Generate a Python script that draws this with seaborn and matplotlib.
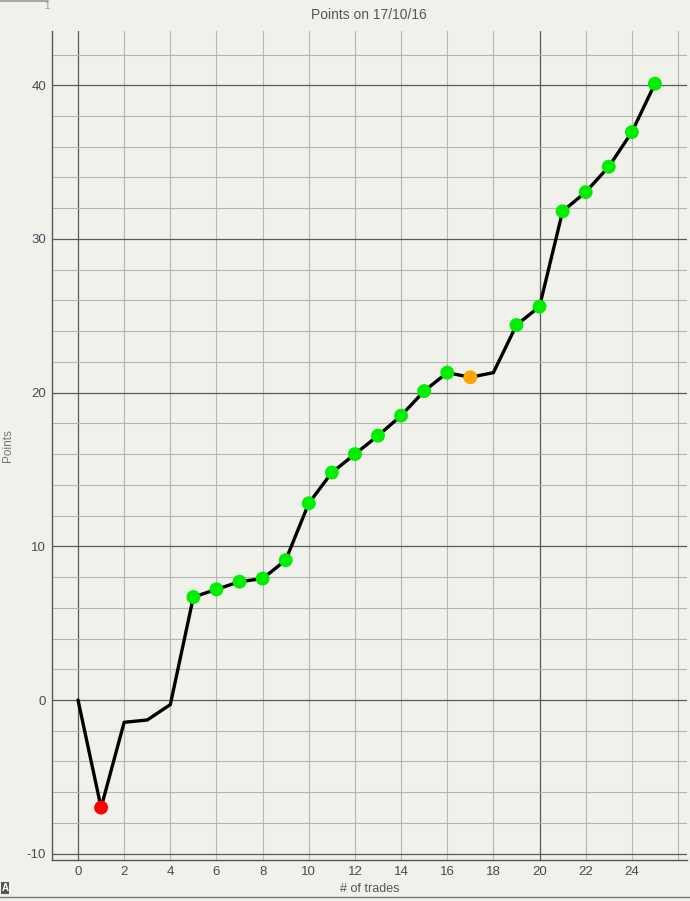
import matplotlib
matplotlib.use("Agg")
import matplotlib.pyplot as plt
import seaborn as sns
import pandas as pd
from matplotlib.ticker import MultipleLocator, FuncFormatter, NullFormatter

trades = list(range(26))
points = [0, -7.0, -1.45, -1.3, -0.3, 6.7, 7.2, 7.7, 7.9, 9.1, 12.8, 14.8, 16.0,
          17.2, 18.5, 20.1, 21.3, 21.0, 21.3, 24.4, 25.6, 31.8, 33.05, 34.7, 36.95, 40.1]
status = ["none", "loss", "none", "none", "none", "win", "win", "win", "win", "win",
          "win", "win", "win", "win", "win", "win", "win", "flat", "none", "win",
          "win", "win", "win", "win", "win", "win"]
title = "Points on 17/10/16"
xlabel = "# of trades"
ylabel = "Points"
x_label_max = 24

df = pd.DataFrame({"trade": trades, "points": points, "status": status})

sns.set_theme(style="white")
plt.rcParams['font.family'] = ['Liberation Sans', 'DejaVu Sans']
plt.rcParams['axes.unicode_minus'] = False
bg = "#f1f1ec"
fig = plt.figure(figsize=(6.9, 9.01), dpi=100, facecolor=bg)
ax = fig.add_axes([51.7/690, 1-860/901, (687-51.7)/690, (860-31)/901])
ax.set_facecolor(bg)

sns.lineplot(data=df, x="trade", y="points", color="black", lw=2.4, ax=ax, zorder=3)
marks = df[df["status"] != "none"]
sns.scatterplot(data=marks, x="trade", y="points", hue="status",
                palette={"win": "#00ee00", "loss": "#ff0000", "flat": "#ffa500"},
                s=100, edgecolor="none", legend=False, ax=ax, zorder=4)

ax.set_xlim(-1.14, 26.39)
ax.set_ylim(-10.41, 43.53)

ax.xaxis.set_major_locator(MultipleLocator(20))
ax.xaxis.set_minor_locator(MultipleLocator(2))
ax.xaxis.set_minor_formatter(FuncFormatter(
    lambda v, p: f"{int(round(v))}" if v <= x_label_max + 0.5 else ""))
ax.yaxis.set_major_locator(MultipleLocator(10))
ax.yaxis.set_minor_locator(MultipleLocator(2))
ax.yaxis.set_minor_formatter(NullFormatter())
ax.grid(which="minor", color="#b5b5b2", lw=0.8)
ax.grid(which="major", color="#5a5a5a", lw=0.9)
ax.set_axisbelow(True)

ax.tick_params(axis="both", which="both", length=0, labelsize=9.5, labelcolor="#444a55", pad=4)
for s in ["top", "right"]:
    ax.spines[s].set_visible(False)
for s in ["left", "bottom"]:
    ax.spines[s].set_color("#555555")
    ax.spines[s].set_linewidth(1.0)

ax.set_xlabel(xlabel, fontsize=9, color="#555555", labelpad=4)
ax.set_ylabel(ylabel, fontsize=8.5, color="#777777")
ax.yaxis.set_label_coords(-0.059, 0.5)
ax.set_title(title, fontsize=10, color="#555555", pad=9)

# small decorative artifacts from the original screenshot
fig.add_artist(plt.Line2D([0, 48/690], [1-1/901, 1-1/901], color="#999999", lw=1.2))
fig.text(47/690, 1-6/901, "1", fontsize=7, color="#999999", ha="center", va="center")
fig.add_artist(plt.Line2D([0, 1], [1-897/901, 1-897/901], color="#777777", lw=1.0))
fig.text(5/690, 1-888/901, "A", fontsize=7, color="white", ha="center", va="center",
         weight="bold", bbox=dict(boxstyle="square,pad=0.1", fc="#555555", ec="none"))

fig.savefig("out.png", dpi=100, facecolor=bg)
